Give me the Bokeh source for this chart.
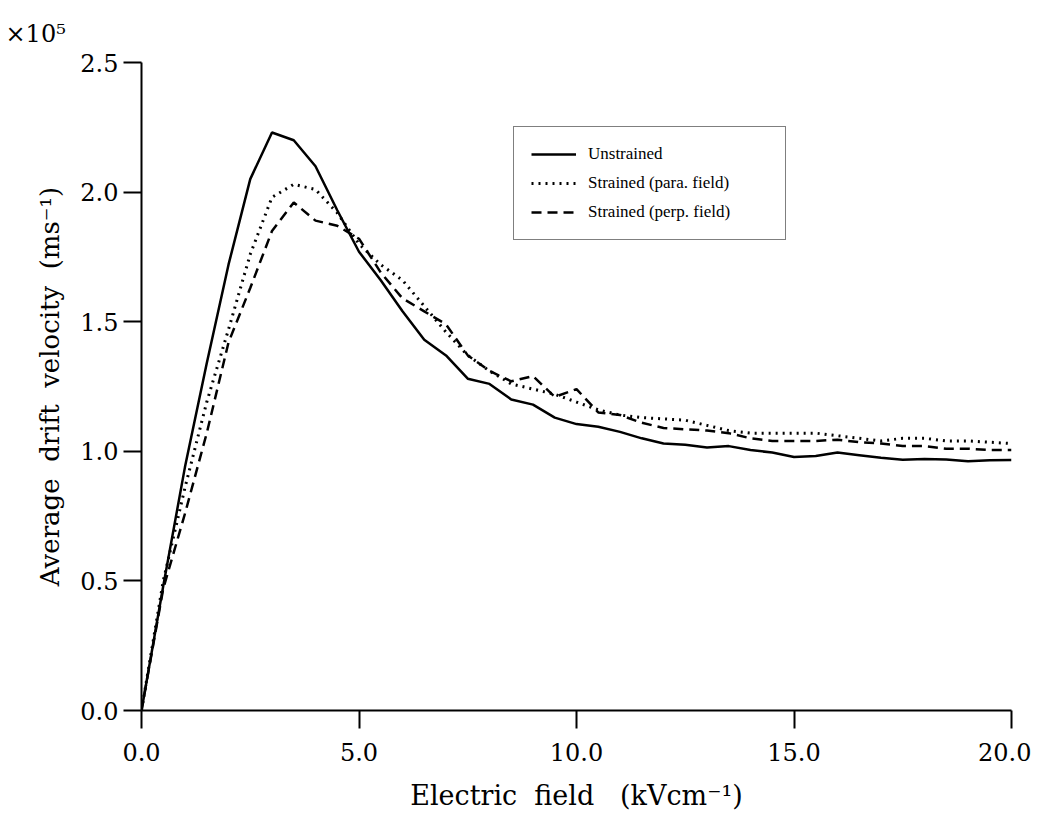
from bokeh.plotting import figure
from bokeh.models import Legend, LegendItem, FixedTicker, ColumnDataSource, Title
from bokeh.embed import file_html
from bokeh.resources import INLINE

field = [0.0, 0.5, 1.0, 1.5, 2.0, 2.5, 3.0, 3.5, 4.0, 4.5, 5.0, 5.5, 6.0, 6.5, 7.0,
         7.5, 8.0, 8.5, 9.0, 9.5, 10.0, 10.5, 11.0, 11.5, 12.0, 12.5, 13.0, 13.5,
         14.0, 14.5, 15.0, 15.5, 16.0, 16.5, 17.0, 17.5, 18.0, 18.5, 19.0, 19.5, 20.0]

unstrained = [0.0, 0.48, 0.94, 1.34, 1.72, 2.05, 2.23, 2.20, 2.10, 1.93, 1.77, 1.66,
              1.54, 1.43, 1.37, 1.28, 1.26, 1.20, 1.18, 1.13, 1.105, 1.095, 1.075,
              1.05, 1.03, 1.025, 1.015, 1.02, 1.005, 0.995, 0.978, 0.982, 0.995,
              0.985, 0.975, 0.967, 0.97, 0.968, 0.962, 0.965, 0.966]

strained_para = [0.0, 0.50, 0.86, 1.19, 1.47, 1.76, 1.98, 2.03, 2.01, 1.92, 1.80,
                 1.72, 1.66, 1.56, 1.46, 1.37, 1.31, 1.26, 1.24, 1.22, 1.19, 1.16,
                 1.14, 1.13, 1.125, 1.12, 1.10, 1.08, 1.07, 1.07, 1.07, 1.07, 1.06,
                 1.05, 1.04, 1.05, 1.05, 1.04, 1.04, 1.035, 1.03]

strained_perp = [0.0, 0.47, 0.76, 1.07, 1.42, 1.63, 1.85, 1.96, 1.89, 1.87, 1.82,
                 1.69, 1.59, 1.54, 1.49, 1.37, 1.31, 1.27, 1.29, 1.21, 1.24, 1.15,
                 1.14, 1.11, 1.09, 1.085, 1.08, 1.07, 1.05, 1.04, 1.04, 1.04, 1.045,
                 1.035, 1.03, 1.02, 1.02, 1.01, 1.01, 1.005, 1.005]

series_names = ["Unstrained", "Strained (para. field)", "Strained (perp. field)"]
x_ticks = [0.0, 5.0, 10.0, 15.0, 20.0]
y_ticks = [0.0, 0.5, 1.0, 1.5, 2.0, 2.5]

SERIF = "DejaVu Serif"
NB = "\u00a0"

p = figure(output_backend="svg", toolbar_location=None,
           x_range=(0, 20), y_range=(0, 2.5),
           frame_width=870, frame_height=648,
           min_border_left=141, min_border_top=62,
           min_border_right=20, min_border_bottom=100)

p.outline_line_color = None
p.xgrid.visible = False
p.ygrid.visible = False
p.background_fill_color = "white"
p.border_fill_color = "white"

src = ColumnDataSource(dict(x=field, u=unstrained, pa=strained_para, pe=strained_perp))
r1 = p.line("x", "u", source=src, line_color="black", line_width=2.5)
r2 = p.line("x", "pa", source=src, line_color="black", line_width=3, line_dash="2 5")
r3 = p.line("x", "pe", source=src, line_color="black", line_width=2.5, line_dash="10 6")

for ax, ticks in ((p.xaxis[0], x_ticks), (p.yaxis[0], y_ticks)):
    ax.ticker = FixedTicker(ticks=ticks)
    ax.major_label_overrides = {t: f"{t:.1f}" for t in ticks}
    ax.axis_line_width = 2
    ax.axis_line_color = "black"
    ax.major_tick_line_width = 2
    ax.major_tick_line_color = "black"
    ax.major_tick_in = 0
    ax.major_tick_out = 18
    ax.minor_tick_line_color = None
    ax.major_label_text_font = SERIF
    ax.major_label_text_font_size = "24px"
    ax.major_label_text_color = "black"
    ax.axis_label_text_font = SERIF
    ax.axis_label_text_font_size = "26px"
    ax.axis_label_text_font_style = "normal"
    ax.axis_label_text_color = "black"

p.xaxis.major_label_standoff = 14
p.xaxis.axis_label_standoff = 16
p.yaxis.major_label_standoff = 5
p.yaxis.axis_label_standoff = 12
p.xaxis.axis_label = ("Electric" + NB + NB + "field" + NB + NB + NB + "(kVcm\u207b\u00b9)")
p.xaxis.axis_label_text_font_size = "27px"
p.yaxis.axis_label = ("Average" + NB + NB + "drift" + NB + NB + "velocity"
                      + NB + NB + "(ms\u207b\u00b9)")

legend = Legend(items=[LegendItem(label=series_names[0], renderers=[r1]),
                       LegendItem(label=series_names[1], renderers=[r2]),
                       LegendItem(label=series_names[2], renderers=[r3])],
                location=(372, 470))
legend.border_line_color = "black"
legend.border_line_width = 1.5
legend.background_fill_alpha = 1
legend.label_text_font = "Liberation Serif"
legend.label_text_font_size = "17px"
legend.label_text_color = "black"
legend.glyph_width = 45
legend.glyph_height = 20
legend.label_height = 20
legend.label_width = 180
legend.label_standoff = 12
legend.spacing = 9
legend.padding = 17
legend.margin = 0
p.add_layout(legend)

mult = Title(text="\u00d710\u2075", align="left", offset=-136, standoff=30,
             text_font=SERIF, text_font_size="24px", text_color="black",
             text_font_style="normal")
p.add_layout(mult, "above")

open("out.html", "w").write(file_html(p, INLINE))
